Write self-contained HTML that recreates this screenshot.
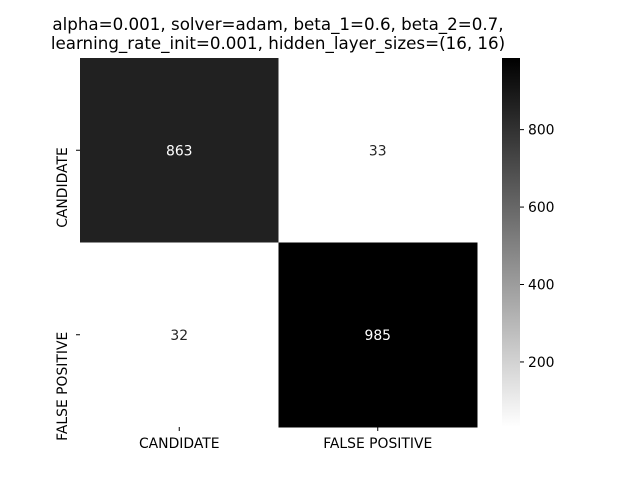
<!DOCTYPE html>
<html><head><meta charset="utf-8"><style>
body{margin:0;background:#fff;font-family:"Liberation Sans","DejaVu Sans",sans-serif;}
svg text{font-family:"DejaVu Sans","Liberation Sans",sans-serif;}
</style></head><body>
<svg id="chart" width="640" height="480" xmlns="http://www.w3.org/2000/svg">
<text x="278" y="30" font-size="16.7" text-anchor="middle">alpha=0.001, solver=adam, beta_1=0.6, beta_2=0.7,</text>
<text x="278" y="49" font-size="16.7" text-anchor="middle">learning_rate_init=0.001, hidden_layer_sizes=(16, 16)</text>
<g id="cells"></g>
<g id="axes"></g>
<g id="cbar"></g>
</svg>
<script>
const labels = ["CANDIDATE", "FALSE POSITIVE"];
const matrix = [[863, 33], [32, 985]];
const cbarTicks = [200, 400, 600, 800];
const NS = "http://www.w3.org/2000/svg";
const X0 = 80, X1 = 477, Y0 = 58, Y1 = 427;
const vmin = 32, vmax = 985;
const FS = 13.9;
const cw = (X1 - X0) / labels.length, ch = (Y1 - Y0) / labels.length;
function mk(tag, attrs, parent) { const e = document.createElementNS(NS, tag); for (const k in attrs) e.setAttribute(k, attrs[k]); parent.appendChild(e); return e; }
function gray(v) { const t = (v - vmin) / (vmax - vmin); const g = Math.round(255 * (1 - t)); return `rgb(${g},${g},${g})`; }
function cy(v) { return Y1 - (v - vmin) / (vmax - vmin) * (Y1 - Y0); }
const cells = document.getElementById('cells');
matrix.forEach((row, i) => row.forEach((v, j) => {
  const r = mk('rect', { x: X0 + j * cw, y: Y0 + i * ch, width: cw + 0.5, height: ch + 0.5, fill: gray(v) }, cells);
  
  
  const t = mk('text', { x: X0 + (j + 0.5) * cw, y: Y0 + (i + 0.5) * ch + 5, 'font-size': FS, 'text-anchor': 'middle', fill: (v - vmin) / (vmax - vmin) > 0.5 ? '#fff' : '#262626' }, cells);
  t.textContent = v;
  
  
}));
const axes = document.getElementById('axes');
labels.forEach((l, j) => {
  const x = X0 + (j + 0.5) * cw;
  mk('line', { x1: x, x2: x, y1: Y1, y2: Y1 + 4, stroke: '#000' }, axes);
  const t = mk('text', { x: x, y: Y1 + 21, 'font-size': FS, 'text-anchor': 'middle' }, axes);
  t.textContent = l;
  
  
  const y = Y0 + (j + 0.5) * ch;
  mk('line', { x1: X0 - 4, x2: X0, y1: y, y2: y, stroke: '#000' }, axes);
  const t2 = mk('text', { x: 0, y: 0, 'font-size': FS, 'text-anchor': 'end', transform: `translate(67,${y - 3}) rotate(-90)` }, axes);
  t2.textContent = l;
  
  
});
const cb = document.getElementById('cbar');
const defs = mk('defs', {}, cb);
const lg = mk('linearGradient', { id: 'gr', x1: 0, y1: 1, x2: 0, y2: 0 }, defs);
mk('stop', { offset: 0, 'stop-color': '#fff' }, lg);
mk('stop', { offset: 1, 'stop-color': '#000' }, lg);
const bar = mk('rect', { x: 502, y: Y0, width: 18, height: Y1 - Y0, fill: 'url(#gr)' }, cb);


cbarTicks.forEach(v => {
  const y = cy(v);
  mk('line', { x1: 520, x2: 524, y1: y, y2: y, stroke: '#000' }, cb);
  const t = mk('text', { x: 528, y: y + 5, 'font-size': FS }, cb);
  t.textContent = v;
  
  
});
</script>
</body></html>
